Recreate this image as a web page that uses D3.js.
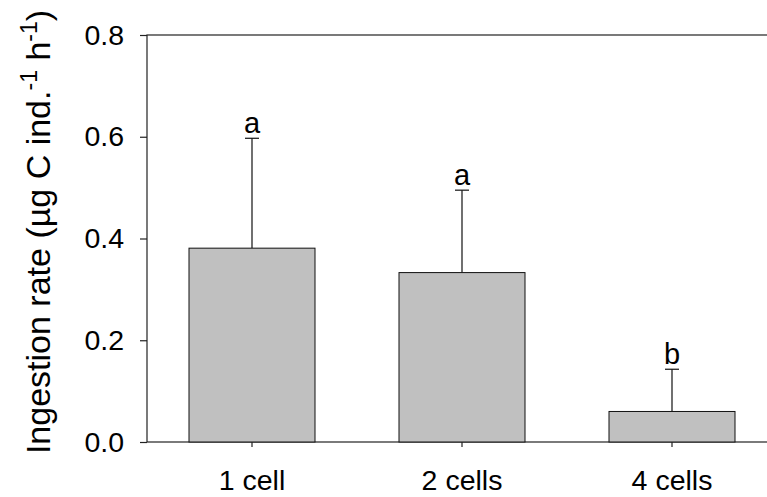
<!DOCTYPE html>
<html>
<head>
<meta charset="utf-8">
<script src="https://cdn.jsdelivr.net/npm/d3@7"></script>
<style>
  body { margin: 0; background: #fff; }
  svg { display: block; font-family: "Liberation Sans", Arial, sans-serif; }
</style>
</head>
<body>
<svg id="chart" width="767" height="497"></svg>
<script>
// data
const categories = ["1 cell", "2 cells", "4 cells"];
const means = [0.381, 0.333, 0.06];
const errors = [0.216, 0.162, 0.083];
const letters = ["a", "a", "b"];
const yTicks = [0.0, 0.2, 0.4, 0.6, 0.8];

const svg = d3.select("#chart");

let x = d3.scaleBand()
    .domain(categories)
    .range([147, 777])
    .paddingInner(0.4)
    .paddingOuter(0.2);

let y = d3.scaleLinear().domain([0, 0.8]).range([442, 35]);

let data = categories.map((c, i) => ({ cat: c, mean: means[i], err: errors[i], letter: letters[i] }));

// frame (right side falls outside the window)
svg.append("rect")
    .attr("x", x.range()[0])
    .attr("y", y(0.8))
    .attr("width", x.range()[1] - x.range()[0])
    .attr("height", y(0) - y(0.8))
    .attr("fill", "none")
    .attr("stroke", "#222")
    .attr("stroke-width", 1.2);

// error bars (upper only)
let eb = svg.append("g").attr("stroke", "#111").attr("stroke-width", 1.2);
data.forEach((d) => {
    let cx = x(d.cat) + x.bandwidth() / 2;
    eb.append("line")
        .attr("x1", cx).attr("x2", cx)
        .attr("y1", y(d.mean)).attr("y2", y(d.mean + d.err));
    eb.append("line")
        .attr("x1", cx - 7).attr("x2", cx + 7)
        .attr("y1", y(d.mean + d.err)).attr("y2", y(d.mean + d.err));
});

// bars
svg.append("g")
    .selectAll("rect")
    .data(data)
    .join("rect")
    .attr("x", (d) => x(d.cat))
    .attr("y", (d) => y(d.mean))
    .attr("width", x.bandwidth())
    .attr("height", (d) => y(0) - y(d.mean))
    .attr("fill", "#c0c0c0")
    .attr("stroke", "#111")
    .attr("stroke-width", 1);

// significance letters
svg.append("g")
    .selectAll("text")
    .data(data)
    .join("text")
    .attr("x", (d) => x(d.cat) + x.bandwidth() / 2)
    .attr("y", (d) => y(d.mean + d.err) - 5)
    .attr("text-anchor", "middle")
    .attr("font-size", 29)
    .attr("fill", "#000")
    .text((d) => d.letter);

// y axis
let yAxis = svg.append("g")
    .attr("transform", `translate(${x.range()[0]},0)`)
    .call(d3.axisLeft(y).tickValues(yTicks).tickFormat(d3.format(".1f")).tickSize(7).tickPadding(16));
yAxis.select(".domain").remove();
yAxis.selectAll("line").attr("stroke", "#222").attr("stroke-width", 1.2);
yAxis.selectAll("text").attr("font-size", 28.5).attr("fill", "#000").attr("font-family", null);

// x axis
let xAxis = svg.append("g")
    .attr("transform", `translate(0,${y(0)})`)
    .call(d3.axisBottom(x).tickSize(5).tickPadding(23));
xAxis.select(".domain").remove();
xAxis.selectAll("line").attr("stroke", "#222").attr("stroke-width", 1.2);
xAxis.selectAll("text").attr("font-size", 28.5).attr("fill", "#000").attr("font-family", null);

// y label with superscripts
let yl = svg.append("text")
    .attr("transform", "translate(50,232) rotate(-90)")
    .attr("text-anchor", "middle")
    .attr("font-size", 34)
    .attr("fill", "#000");
yl.append("tspan").text("Ingestion rate (\u00b5g C ind.");
yl.append("tspan").attr("font-size", 23).attr("dy", -13).text("-1");
yl.append("tspan").attr("dy", 13).text(" h");
yl.append("tspan").attr("font-size", 23).attr("dy", -13).text("-1");
yl.append("tspan").attr("dy", 13).text(")");
</script>
</body>
</html>
